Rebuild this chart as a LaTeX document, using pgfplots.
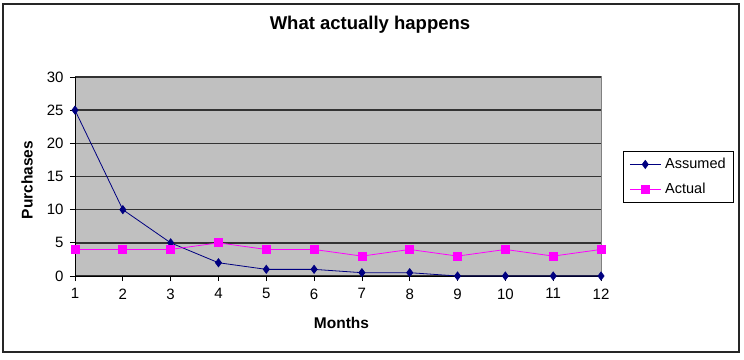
\documentclass[border=0pt]{standalone}
\usepackage{pgfplots}
\pgfplotsset{compat=1.18}
\usepackage{fontspec}
\setmainfont{Liberation Sans}
\definecolor{plotgray}{HTML}{C0C0C0}
\definecolor{navyc}{HTML}{000080}
\definecolor{magc}{HTML}{FF00FF}
\begin{document}
\begin{tikzpicture}
\useasboundingbox (0pt,0pt) rectangle (744pt,359pt);
\fill[white] (0pt,0pt) rectangle (744pt,359pt);
\draw[black!85, line width=1.2pt] (3pt,7pt) rectangle (739pt,355pt);
\node[anchor=base, font=\fontsize{18.5}{22}\selectfont\bfseries] at (370pt,329pt) {What actually happens};
\begin{axis}[
  at={(75pt,83pt)}, anchor=south west,
  scale only axis, width=526pt, height=199pt,
  xmin=1, xmax=12, ymin=0, ymax=30,
  xtick={1,2,3,4,5,6,7,8,9,10,11,12},
  ytick={0,5,10,15,20,25,30},
  axis lines*=left,
  axis line style={-, black, line width=1pt},
  axis background/.style={fill=plotgray, draw=gray, line width=1pt},
  tick align=outside,
  major tick length=5pt,
  tick style={black, line width=0.8pt},
  ymajorgrids,
  major grid style={black!80, line width=1.6pt},
  /pgf/number format/assume math mode=true,
  tick label style={font=\fontsize{15}{17}\selectfont},
  xticklabel style={yshift=-4pt},
  yticklabel style={xshift=-3pt},
  clip=false,
  legend style={at={(1.0418,0.628)}, anchor=north west, draw=black, line width=0.8pt, fill=white,
    font=\fontsize{14.5}{17}\selectfont, row sep=9pt, column sep=2pt, inner xsep=6pt, inner ysep=5pt},
  legend cell align=left,
  legend image code/.code={\draw[mark repeat=2, mark phase=2] plot coordinates {(0pt,0pt)(15.5pt,0pt)(31pt,0pt)};},
]
\addplot[navyc, line width=0.8pt, mark=diamond*, mark size=4pt, mark options={fill=navyc, draw=navyc}]
  coordinates {(1,25)(2,10)(3,5)(4,2)(5,1)(6,1)(7,0.5)(8,0.5)(9,0)(10,0)(11,0)(12,0)};
\addlegendentry{Assumed}
\addplot[magc, line width=0.8pt, mark=square*, mark size=4pt, mark options={fill=magc, draw=magc}]
  coordinates {(1,4)(2,4)(3,4)(4,5)(5,4)(6,4)(7,3)(8,4)(9,3)(10,4)(11,3)(12,4)};
\addlegendentry{Actual}
\end{axis}
\node[anchor=base, font=\fontsize{15.5}{18}\selectfont\bfseries] at (341.5pt,31pt) {Months};
\node[rotate=90, font=\fontsize{15.5}{18}\selectfont\bfseries] at (27pt,179pt) {Purchases};
\end{tikzpicture}
\end{document}
